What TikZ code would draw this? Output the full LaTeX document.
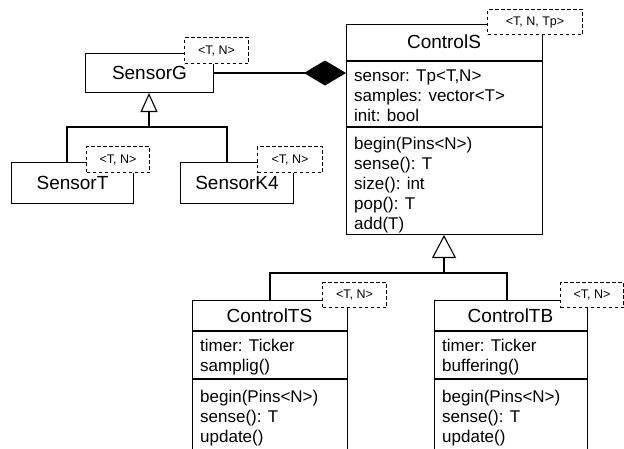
\documentclass[tikz,border=0pt]{standalone}
\usepackage{fontspec}
\setmainfont{Liberation Sans}
\usetikzlibrary{arrows.meta,calc}
\tikzset{>=latex}
\tikzset{
	classbox/.style={draw, line width=1pt, fill=white, anchor=north west, inner sep=0pt},
	tmpl/.style={draw, line width=1pt, dash pattern=on 3.5pt off 2.5pt, fill=white, anchor=north west, inner sep=0pt, font=\fontsize{12.5}{14}\selectfont},
	title/.style={font=\fontsize{19}{22}\selectfont, inner sep=0pt},
	members/.style={anchor=north west, align=left, inner sep=0pt, font=\fontsize{17}{20}\selectfont},
	link/.style={line width=1.1pt},
}

\begin{document}
\begin{tikzpicture}[x=1pt,y=-1pt]
	\useasboundingbox (0,0) rectangle (624,448);
	\clip (0,0) rectangle (624,448);

	% sensors
	\node[classbox, minimum width=128pt, minimum height=39pt] (sensG) at (85,53) {};
	\node[title] (sensGname) at (sensG.center) {SensorG};
	\node[classbox, minimum width=122pt, minimum height=41pt] (sensT) at (11,162) {};
	\node[title] (sensTname) at (sensT.center) {SensorT};
	\node[classbox, minimum width=113pt, minimum height=41pt] (sensK) at (180,162) {};
	\node[title] (sensKname) at (sensK.center) {SensorK4};

	% controller
	\node[classbox, minimum width=196pt, minimum height=210pt] (ctrlS) at (346,24) {};
	\node[title] (ctrlSname) at (444,42) {ControlS};
	\draw[link] ([yshift=-37pt]ctrlS.north west) -- ([yshift=-37pt]ctrlS.north east);
	\draw[link] ([yshift=-103pt]ctrlS.north west) -- ([yshift=-103pt]ctrlS.north east);
	\node[members] (ctrlSattr) at (354,70) {sensor: Tp<T,N>\\samples: vector<T>\\init: bool};
	\node[members] (ctrlSops) at (354,137) {begin(Pins<N>)\\sense(): T\\size(): int\\pop(): T\\add(T)};

	% derived controllers
	\node[classbox, minimum width=155pt, minimum height=170pt] (ctrlTS) at (192,300) {};
	\node[title] (ctrlTSname) at (269.5,316) {ControlTS};
	\draw[link] ([yshift=-31pt]ctrlTS.north west) -- ([yshift=-31pt]ctrlTS.north east);
	\draw[link] ([yshift=-79pt]ctrlTS.north west) -- ([yshift=-79pt]ctrlTS.north east);
	\node[members] (ctrlTSattr) at (200,339) {timer: Ticker\\samplig()};
	\node[members] (ctrlTSops) at (200,390) {begin(Pins<N>)\\sense(): T\\update()};

	\node[classbox, minimum width=153pt, minimum height=170pt] (ctrlTB) at (434,300) {};
	\node[title] (ctrlTBname) at (510.5,316) {ControlTB};
	\draw[link] ([yshift=-31pt]ctrlTB.north west) -- ([yshift=-31pt]ctrlTB.north east);
	\draw[link] ([yshift=-79pt]ctrlTB.north west) -- ([yshift=-79pt]ctrlTB.north east);
	\node[members] (ctrlTBattr) at (442,339) {timer: Ticker\\buffering()};
	\node[members] (ctrlTBops) at (442,390) {begin(Pins<N>)\\sense(): T\\update()};

	% template parameters
	\node[tmpl, minimum width=64pt, minimum height=26pt] (sensGt) at (184,37) {<T, N>};
	\node[tmpl, minimum width=63pt, minimum height=26pt] (sensTt) at (86,146) {<T, N>};
	\node[tmpl, minimum width=65pt, minimum height=26pt] (sensKt) at (257,146) {<T, N>};
	\node[tmpl, minimum width=95pt, minimum height=25pt] (ctrlSt) at (487,9) {<T, N, Tp>};
	\node[tmpl, minimum width=64pt, minimum height=25pt] (ctrlTSt) at (322,282) {<T, N>};
	\node[tmpl, minimum width=63pt, minimum height=25pt] (ctrlTBt) at (560,282) {<T, N>};

	% relations
	\draw[link, -{Diamond[length=42pt, width=25pt]}] (sensG.east) -- (sensG.east -| ctrlS.west);

	\coordinate (busG) at (149,127);
	\draw[link] ([xshift=56pt]sensT.north west) |- (busG);
	\draw[link] ([xshift=47pt]sensK.north west) |- (busG);
	\draw[link, {Triangle[open, length=19pt, width=17pt]}-] (sensG.south -| busG) -- (busG);

	\coordinate (busS) at (444,273);
	\draw[link] (ctrlTS.north) |- (busS);
	\draw[link] ([xshift=73pt]ctrlTB.north west) |- (busS);
	\draw[link, {Triangle[open, length=23pt, width=24pt]}-] (ctrlS.south -| busS) -- (busS);
\end{tikzpicture}
\end{document}
